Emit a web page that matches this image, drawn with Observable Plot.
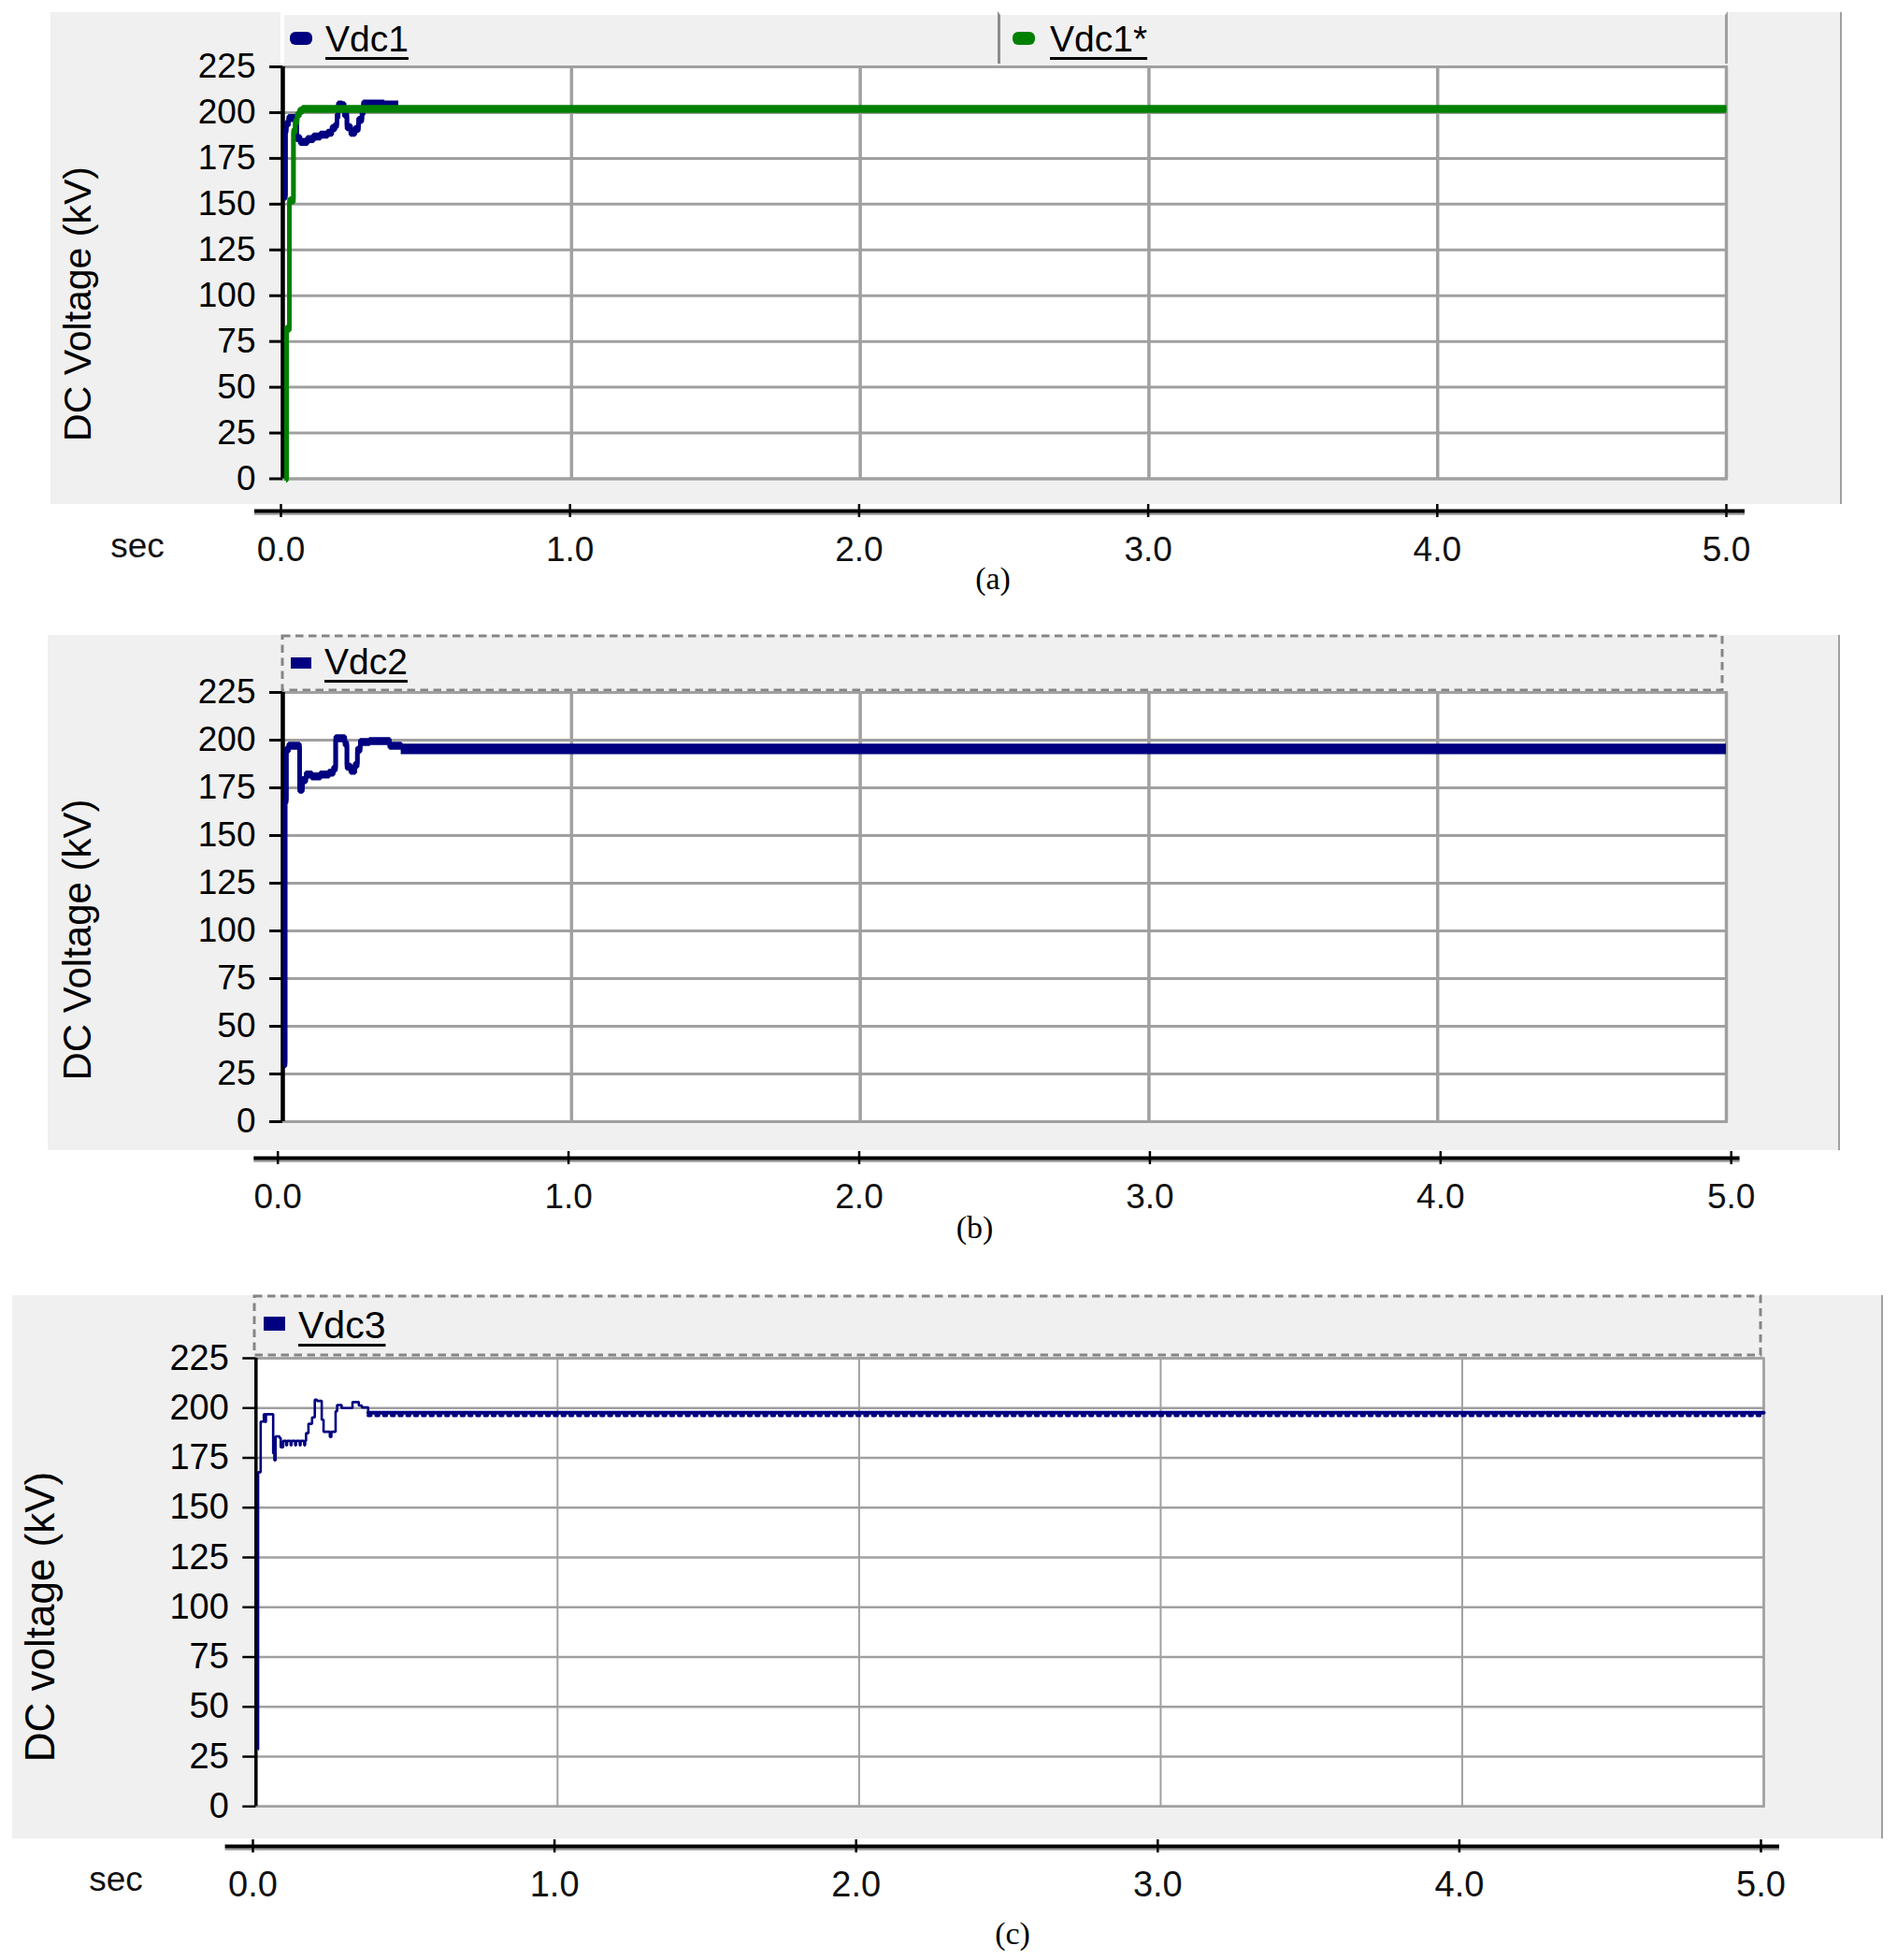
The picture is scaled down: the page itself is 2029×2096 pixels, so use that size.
<!DOCTYPE html>
<html><head><meta charset="utf-8">
<script src="https://cdn.jsdelivr.net/npm/d3@7"></script>
<script src="https://cdn.jsdelivr.net/npm/@observablehq/plot@0.6"></script>
<style>
body{margin:0;background:#fff;}
#root{position:relative;width:2029px;height:2096px;overflow:hidden;font-family:Arial,"Liberation Sans",sans-serif;color:#000;}
</style></head><body><div id="root"></div>
<script>
// ---------- DATA ----------
const timeTicks = [0, 1, 2, 3, 4, 5];
const voltTicks = [0, 25, 50, 75, 100, 125, 150, 175, 200, 225];

// (a) Vdc1 (navy) and its reference Vdc1* (green) — step samples [s], [kV]
const vdc1Time = [0.006, 0.009, 0.012, 0.02, 0.042, 0.048, 0.06, 0.085, 0.106, 0.13, 0.155, 0.17, 0.181, 0.187, 0.192, 0.205, 0.213, 0.222, 0.235, 0.25, 0.262, 0.274, 0.279, 0.35, 0.40];
const vdc1Volt = [154, 190, 194, 197, 196, 186, 184, 185.5, 187, 188, 189, 191.5, 193, 198, 204.5, 204, 199, 192, 189, 191, 196, 200, 205, 204.5, 204.5];
const vdc1RefTime = [0.011, 0.013, 0.023, 0.037, 0.043, 0.05, 0.058, 0.068, 5.0];
const vdc1RefVolt = [0, 82, 152, 190, 195, 199, 201, 202, 202];

// (b) Vdc2 transient, then steady ripple band
const vdc2Time = [0.005, 0.008, 0.012, 0.02, 0.058, 0.068, 0.08, 0.1, 0.13, 0.16, 0.175, 0.183, 0.215, 0.222, 0.235, 0.25, 0.258, 0.268, 0.3, 0.37, 0.41];
const vdc2Volt = [30, 168, 195, 197, 174, 179, 182, 181, 182, 183, 185, 201, 198, 186, 184, 187, 195, 199, 199.5, 197, 196];
const vdc2RippleTime = [0.41, 5.0];
const vdc2RippleLow = [192.4, 192.4];
const vdc2RippleHigh = [197.9, 197.9];

// (c) Vdc3 transient and steady value with ripple teeth
const vdc3Time = [0.0065, 0.007, 0.0155, 0.026, 0.03, 0.033, 0.057, 0.061, 0.065, 0.078, 0.082, 0.09, 0.1, 0.103, 0.115, 0.118, 0.13, 0.133, 0.145, 0.148, 0.16, 0.163, 0.166, 0.174, 0.186, 0.195, 0.202, 0.218, 0.224, 0.245, 0.25, 0.264, 0.269, 0.284, 0.32, 0.341, 0.351, 0.372, 5.0];
const vdc3Volt = [28.6, 167.8, 193.2, 196.9, 193, 196.9, 177.2, 173.7, 185.8, 185, 180.3, 183.5, 181.3, 183.5, 181.3, 183.5, 181.3, 183.5, 181.3, 183.5, 181.3, 183.5, 187.4, 192.1, 195.3, 204.2, 203.6, 194.1, 188.1, 185.5, 188.1, 198.4, 201.5, 200, 203, 201.3, 200.3, 197.6, 197.6];
const vdc3SteadyTime = [0.372, 5.0];
const vdc3SteadyVolt = [197.6, 197.6];
const vdc3TeethVolt = [196.3, 196.3];

// ---------- LAYOUT ----------
const W = 2029;
const navy = "#000080", green = "#008000", gridGrey = "#a0a0a0", panelGrey = "#f0f0f0";
const FONT = "Arial, 'Liberation Sans', sans-serif";
const root = document.getElementById("root");

function el(tag, style, text) {
  const d = document.createElement(tag);
  Object.assign(d.style, {position: "absolute"}, style);
  if (text != null) d.textContent = text;
  root.appendChild(d);
  return d;
}
function centerText(text, cx, cy, size, extra = {}) {
  return el("div", Object.assign({left: cx + "px", top: cy + "px", fontSize: size + "px", lineHeight: "1",
    whiteSpace: "nowrap", transform: "translate(-50%,-50%)", fontFamily: FONT}, extra), text);
}
function rows(t, v) { return t.map((x, i) => ({t: x, v: v[i]})); }

// a step trace whose horizontal runs are thicker than its vertical runs (as in the PSCAD export)
function thickTrace(data, color, w, spread) {
  const o = {x: "t", y: "v", stroke: color, strokeWidth: w, curve: "step-after", strokeLinejoin: "miter", strokeLinecap: "butt"};
  return [
    Plot.line(data, {...o, dy: -spread}),
    Plot.line(data, {...o, dy: spread}),
    Plot.line(data, o)
  ];
}

const panels = [
  {
    bg: {x: 53.5, y: 13, x2: 1970, y2: 539},
    plot: {x0: 302, x5: 1846, yTop: 71, yBot: 511.5},
    gridW: 3, gridXW: 3.5, frameW: 3, axisW: 4.5, tickSize: 14, tickPad: 15, tickW: 3, tickFont: 37,
    ylabel: {text: "DC Voltage (kV)", cx: 83, cy: 325, size: 41},
    xaxis: {y: 545.7, x1: 272, x2: 1866, t0: 300, t5: 1846, font: 37, pad: 20},
    sec: {cx: 147, cy: 583},
    cap: {text: "(a)", cx: 1062, cy: 619}
  },
  {
    bg: {x: 51, y: 679, x2: 1967.5, y2: 1229.6},
    plot: {x0: 302, x5: 1846, yTop: 740, yBot: 1199},
    gridW: 3, gridXW: 3.5, frameW: 3, axisW: 4.5, tickSize: 14, tickPad: 15, tickW: 3, tickFont: 37,
    ylabel: {text: "DC Voltage (kV)", cx: 83, cy: 1005, size: 42},
    xaxis: {y: 1237.7, x1: 271.3, x2: 1860.6, t0: 296.7, t5: 1851.2, font: 37, pad: 20},
    sec: null,
    cap: {text: "(b)", cx: 1042.6, cy: 1312.5}
  },
  {
    bg: {x: 13.4, y: 1385, x2: 2014, y2: 1966},
    plot: {x0: 273.3, x5: 1886, yTop: 1451.7, yBot: 1931},
    gridW: 2.5, gridXW: 2, frameW: 2.5, axisW: 3.5, tickSize: 14, tickPad: 15, tickW: 2.5, tickFont: 38,
    ylabel: {text: "DC voltage (kV)", cx: 43, cy: 1729, size: 44},
    xaxis: {y: 1974, x1: 240.6, x2: 1903, t0: 270, t5: 1883, font: 38, pad: 20},
    sec: {cx: 124, cy: 2009},
    cap: {text: "(c)", cx: 1083, cy: 2068}
  }
];

function background(P) {
  el("div", {left: P.bg.x + "px", top: P.bg.y + "px", width: (P.bg.x2 - P.bg.x) + "px", height: (P.bg.y2 - P.bg.y) + "px",
    background: panelGrey, borderRight: "2.5px solid #a0a0a0", boxSizing: "border-box"});
}

function mainPlot(P, marks) {
  const mt = 30, mb = 30;
  const h = P.plot.yBot - P.plot.yTop + mt + mb;
  const svg = Plot.plot({
    width: W, height: h,
    marginLeft: P.plot.x0, marginRight: W - P.plot.x5, marginTop: mt, marginBottom: mb,
    x: {domain: [0, 5], axis: null, label: null},
    y: {domain: [0, 225], axis: null, label: null},
    style: {background: "transparent", color: "black", fontFamily: FONT, overflow: "visible"},
    marks: [
      Plot.frame({fill: "white"}),
      Plot.gridY(voltTicks, {stroke: gridGrey, strokeOpacity: 1, strokeWidth: P.gridW}),
      Plot.gridX(timeTicks, {stroke: gridGrey, strokeOpacity: 1, strokeWidth: P.gridXW}),
      Plot.frame({stroke: gridGrey, strokeWidth: P.frameW}),
      Plot.ruleX([0], {stroke: "black", strokeWidth: P.axisW}),
      Plot.axisY(voltTicks, {anchor: "left", tickSize: P.tickSize, tickPadding: P.tickPad, strokeWidth: P.tickW, fontSize: P.tickFont, label: null}),
      ...marks
    ]
  });
  Object.assign(svg.style, {position: "absolute", left: "0px", top: (P.plot.yTop - mt) + "px", maxWidth: "none"});
  root.appendChild(svg);
}

function axisStrip(P) {
  const A = P.xaxis;
  const mt = 4, mb = 70, half = 7;
  const h = 2 * half + mt + mb;
  const svg = Plot.plot({
    width: W, height: h,
    marginLeft: A.x1, marginRight: W - A.x2, marginTop: mt, marginBottom: mb,
    x: {domain: [0, 5], range: [A.t0, A.t5], axis: null, label: null},
    y: {domain: [0, 1], axis: null, label: null},
    style: {background: "transparent", color: "black", fontFamily: FONT, overflow: "visible"},
    marks: [
      Plot.ruleY([0.5], {stroke: "#9c9c9c", strokeWidth: 2.5, dy: 3}),
      Plot.ruleY([0.5], {stroke: "black", strokeWidth: 4}),
      Plot.ruleX(timeTicks, {stroke: "black", strokeWidth: 2.5}),
      Plot.axisX(timeTicks, {anchor: "bottom", tickSize: 0, tickPadding: A.pad, tickFormat: d => d.toFixed(1), fontSize: A.font, fill: "#111", label: null})
    ]
  });
  Object.assign(svg.style, {position: "absolute", left: "0px", top: (A.y - half - mt) + "px", maxWidth: "none"});
  root.appendChild(svg);
}

function labels(P) {
  centerText(P.ylabel.text, P.ylabel.cx, P.ylabel.cy, P.ylabel.size, {transform: "translate(-50%,-50%) rotate(-90deg)"});
  if (P.sec) centerText("sec", P.sec.cx, P.sec.cy, 37, {color: "#111"});
  centerText(P.cap.text, P.cap.cx, P.cap.cy, 34, {fontFamily: "'Times New Roman','Liberation Serif',serif"});
}

function legendItem(x, baseline, size, label, color, markerBox, rounded) {
  el("div", {left: markerBox[0] + "px", top: markerBox[1] + "px", width: markerBox[2] + "px", height: markerBox[3] + "px",
    background: color, borderRadius: rounded ? "6px" : "0px"});
  el("div", {left: x + "px", top: (baseline - 0.85 * size) + "px", fontSize: size + "px", lineHeight: "1", whiteSpace: "nowrap",
    fontFamily: FONT, textDecoration: "underline", textUnderlineOffset: "6px", textDecorationThickness: "2.5px"}, label);
}

function dashedBox(x, y, x2, y2) {
  const ns = "http://www.w3.org/2000/svg";
  const s = document.createElementNS(ns, "svg");
  s.setAttribute("width", x2 - x + 4); s.setAttribute("height", y2 - y + 4);
  Object.assign(s.style, {position: "absolute", left: (x - 2) + "px", top: (y - 2) + "px"});
  const r = document.createElementNS(ns, "rect");
  r.setAttribute("x", 2); r.setAttribute("y", 2); r.setAttribute("width", x2 - x); r.setAttribute("height", y2 - y);
  r.setAttribute("fill", panelGrey); r.setAttribute("stroke", "#858585"); r.setAttribute("stroke-width", 3);
  r.setAttribute("stroke-dasharray", "8.5,5.5");
  s.appendChild(r);
  root.appendChild(s);
}

// ---------- PANEL (a) ----------
{
  const P = panels[0];
  background(P);
  el("div", {left: "300px", top: "12px", width: (1069 - 300) + "px", height: (68 - 12) + "px", background: panelGrey,
    borderLeft: "4px solid #fff", borderTop: "4px solid #fff", boxSizing: "border-box"});
  el("div", {left: "1067px", top: "12px", width: (1848 - 1067) + "px", height: (68 - 12) + "px", background: panelGrey,
    borderLeft: "3px solid #8c8c8c", borderRight: "3px solid #a0a0a0", borderTop: "4px solid #fff", boxSizing: "border-box"});
  legendItem(348, 55, 39, "Vdc1", navy, [310, 34, 24, 14], true);
  legendItem(1123, 55, 39, "Vdc1*", green, [1083, 34, 24, 14], true);
  mainPlot(P, [
    ...thickTrace(rows(vdc1Time, vdc1Volt), navy, 4.5, 2),
    ...thickTrace(rows(vdc1RefTime, vdc1RefVolt), green, 4.5, 2)
  ]);
  axisStrip(P);
  labels(P);
}

// ---------- PANEL (b) ----------
{
  const P = panels[1];
  background(P);
  dashedBox(302, 680, 1842, 738);
  legendItem(347, 721, 39, "Vdc2", navy, [311, 703, 22, 12], false);
  const ripple = vdc2RippleTime.map((t, i) => ({t, lo: vdc2RippleLow[i], hi: vdc2RippleHigh[i]}));
  mainPlot(P, [
    ...thickTrace(rows(vdc2Time, vdc2Volt), navy, 4.5, 2),
    Plot.areaY(ripple, {x: "t", y1: "lo", y2: "hi", fill: navy})
  ]);
  axisStrip(P);
  labels(P);
}

// ---------- PANEL (c) ----------
{
  const P = panels[2];
  background(P);
  dashedBox(272, 1386, 1883, 1449);
  legendItem(319, 1432, 41, "Vdc3", navy, [282, 1408, 23, 15], false);
  mainPlot(P, [
    Plot.line(rows(vdc3Time, vdc3Volt), {x: "t", y: "v", stroke: navy, strokeWidth: 2.6, curve: "step-after", strokeLinejoin: "miter", strokeLinecap: "butt"}),
    Plot.line(rows(vdc3SteadyTime, vdc3SteadyVolt), {x: "t", y: "v", stroke: navy, strokeWidth: 4}),
    Plot.line(rows(vdc3SteadyTime, vdc3TeethVolt), {x: "t", y: "v", stroke: navy, strokeWidth: 3.5, strokeDasharray: "3,5.3"})
  ]);
  axisStrip(P);
  labels(P);
}
</script></body></html>
